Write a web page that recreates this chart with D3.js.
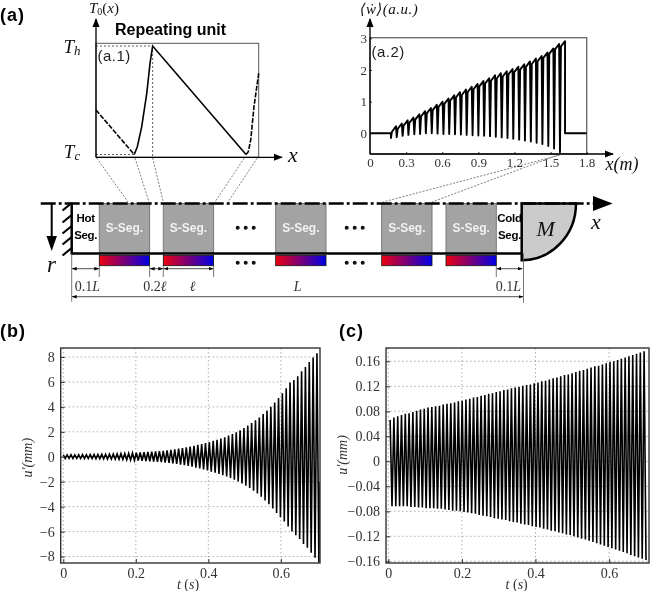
<!DOCTYPE html>
<html>
<head>
<meta charset="utf-8">
<script src="https://cdn.jsdelivr.net/npm/d3@7"></script>
<style>
  html, body { margin: 0; padding: 0; background: #fff; }
  svg { display: block; filter: blur(0.4px); }
  .serif { font-family: "Liberation Serif", "DejaVu Serif", serif; }
  .sans { font-family: "Liberation Sans", Arial, sans-serif; }
  .tick text { font-family: "Liberation Serif", serif; fill: #333; }
  .tick line { stroke: #333; }
</style>
</head>
<body>
<div class="graph"></div>
<script>
// (a.1) temperature profile over one repeating unit, x and T both normalised
const a1LeftX = [0, 0.235];
const a1LeftT = [0.41, 0];
const a1MainX = [0.235, 0.254, 0.281, 0.312, 0.332, 0.348, 0.922];
const a1MainT = [0, 0.072, 0.256, 0.564, 0.84, 1, 0];
const a1RightX = [0.922, 0.936, 0.951, 0.971, 1];
const a1RightT = [0, 0.026, 0.134, 0.44, 0.748];

// (a.2) heat release, one entry per stack segment
const a2ToothX = [0.174, 0.222, 0.271, 0.319, 0.368, 0.416, 0.464, 0.513, 0.561, 0.61,
  0.658, 0.706, 0.755, 0.803, 0.852, 0.9, 0.948, 0.997, 1.045, 1.094,
  1.142, 1.19, 1.239, 1.287, 1.336, 1.384, 1.432, 1.481, 1.529, 1.578];
const a2Bottoms = [-0.15, -0.12, -0.08, -0.05, -0.03, -0.02, 0, 0, -0.01, -0.02,
  -0.02, -0.03, -0.04, -0.05, -0.06, -0.07, -0.08, -0.09, -0.11, -0.13,
  -0.15, -0.17, -0.2, -0.23, -0.26, -0.3, -0.34, -0.4, -0.48, -0.6];
const a2Tops = [0.22, 0.31, 0.41, 0.5, 0.6, 0.7, 0.8, 0.9, 1, 1.1,
  1.2, 1.3, 1.38, 1.47, 1.56, 1.65, 1.74, 1.83, 1.9, 1.96,
  2.03, 2.1, 2.18, 2.27, 2.36, 2.44, 2.55, 2.68, 2.82, 2.91];
const a2XTicks = [0, 0.3, 0.6, 0.9, 1.2, 1.5, 1.8];
const a2YTicks = [0, 1, 2, 3];

// (b) displacement, one top and one bottom per cycle
const bPeriod = 0.0106;
const bTops = [0.16, 0.15, 0.16, 0.15, 0.16, 0.17, 0.16, 0.17, 0.18, 0.18,
  0.19, 0.2, 0.21, 0.22, 0.23, 0.25, 0.26, 0.28, 0.3,
  0.32, 0.34, 0.36, 0.38, 0.4, 0.42, 0.45, 0.48, 0.52, 0.56,
  0.6, 0.65, 0.7, 0.76, 0.82, 0.88, 0.95, 1.02, 1.1,
  1.18, 1.27, 1.36, 1.46, 1.57, 1.7, 1.82, 1.96, 2.12, 2.3,
  2.5, 2.7, 2.92, 3.15, 3.42, 3.7, 4, 4.35, 4.7,
  5.1, 5.5, 5.95, 6.15, 6.45, 6.85, 7.2, 7.6, 7.95, 8.3];
const bBottoms = [-0.14, -0.13, -0.14, -0.13, -0.14, -0.15, -0.14, -0.15, -0.16, -0.16,
  -0.17, -0.18, -0.19, -0.2, -0.21, -0.22, -0.24, -0.26, -0.28,
  -0.3, -0.32, -0.34, -0.36, -0.38, -0.41, -0.44, -0.47, -0.5, -0.54,
  -0.58, -0.63, -0.68, -0.74, -0.8, -0.87, -0.94, -1.02, -1.1,
  -1.2, -1.28, -1.38, -1.48, -1.58, -1.7, -1.84, -1.98, -2.14, -2.32,
  -2.5, -2.72, -2.95, -3.2, -3.5, -3.8, -4.15, -4.5, -4.85,
  -5.2, -5.6, -6, -6.3, -6.6, -7, -7.3, -7.7, -8.1, -8.5];
const bLastValue = -2;
const bYTicks = [-8, -6, -4, -2, 0, 2, 4, 6, 8];

// (c) displacement
const cPeriod = 0.0103;
const cTops = [0.066, 0.07, 0.072, 0.074, 0.076, 0.077, 0.079, 0.081, 0.083, 0.084,
  0.086, 0.087, 0.088, 0.089, 0.091, 0.092, 0.093, 0.094, 0.096, 0.097,
  0.099, 0.1, 0.102, 0.103, 0.105, 0.106, 0.108, 0.109, 0.111, 0.112,
  0.114, 0.115, 0.117, 0.118, 0.119, 0.121, 0.122, 0.123, 0.125, 0.126,
  0.128, 0.129, 0.131, 0.133, 0.134, 0.136, 0.138, 0.139, 0.141, 0.143,
  0.145, 0.146, 0.148, 0.15, 0.152, 0.153, 0.155, 0.157, 0.159, 0.16,
  0.162, 0.164, 0.166, 0.168, 0.17, 0.172, 0.174, 0.176];
const cBottoms = [-0.072, -0.072, -0.072, -0.072, -0.072, -0.073, -0.073, -0.074, -0.074, -0.075,
  -0.075, -0.075, -0.076, -0.076, -0.077, -0.078, -0.079, -0.079, -0.08, -0.081,
  -0.082, -0.083, -0.084, -0.086, -0.087, -0.088, -0.089, -0.091, -0.092, -0.093,
  -0.094, -0.096, -0.097, -0.098, -0.1, -0.101, -0.102, -0.104, -0.105, -0.106,
  -0.108, -0.109, -0.111, -0.112, -0.114, -0.115, -0.117, -0.118, -0.12, -0.122,
  -0.124, -0.125, -0.127, -0.129, -0.131, -0.133, -0.135, -0.137, -0.139, -0.141,
  -0.143, -0.145, -0.147, -0.15, -0.152, -0.154, -0.156, -0.158];
const cYTicks = [-0.16, -0.12, -0.08, -0.04, 0, 0.04, 0.08, 0.12, 0.16];
const timeTicks = [0, 0.2, 0.4, 0.6];

const w = 650;
const h = 591;

const svg = d3.select('.graph')
  .append('svg')
  .attr('width', w)
  .attr('height', h);

const defs = svg.append('defs');

function addMarker(id, path, refX, size) {
  defs.append('marker')
    .attr('id', id)
    .attr('viewBox', '0 0 10 10')
    .attr('refX', refX)
    .attr('refY', 5)
    .attr('markerUnits', 'userSpaceOnUse')
    .attr('markerWidth', size)
    .attr('markerHeight', size)
    .attr('orient', 'auto-start-reverse')
    .append('path')
    .attr('d', path)
    .attr('fill', '#000');
}
addMarker('axis-head', 'M0,1 L10,5 L0,9 Z', 9, 9);
addMarker('dim-head', 'M0,1.5 L10,5 L0,8.5 Z', 9, 5);

const gradient = defs.append('linearGradient').attr('id', 'stack-grad');
gradient.append('stop').attr('offset', '0%').attr('stop-color', '#ee0010');
gradient.append('stop').attr('offset', '100%').attr('stop-color', '#0000e6');

function addText(x, y, str, size, opts = {}) {
  return svg.append('text')
    .attr('class', opts.sans ? 'sans' : 'serif')
    .attr('x', x)
    .attr('y', y)
    .attr('text-anchor', opts.anchor || 'middle')
    .attr('dominant-baseline', 'central')
    .attr('font-size', size)
    .attr('font-weight', opts.bold ? 'bold' : null)
    .attr('font-style', opts.italic ? 'italic' : null)
    .attr('letter-spacing', opts.spacing || null)
    .attr('fill', opts.fill || '#111')
    .text(str);
}

function addLine(x1, y1, x2, y2, color, width, dash) {
  return svg.append('line')
    .attr('x1', x1).attr('y1', y1)
    .attr('x2', x2).attr('y2', y2)
    .attr('stroke', color)
    .attr('stroke-width', width)
    .attr('stroke-dasharray', dash || null);
}

addText(0, 15, '(a)', 18, { sans: true, bold: true, anchor: 'start', spacing: 1, fill: '#000' });
addText(0, 331, '(b)', 18, { sans: true, bold: true, anchor: 'start', spacing: 1, fill: '#000' });
addText(339, 331, '(c)', 18, { sans: true, bold: true, anchor: 'start', spacing: 1, fill: '#000' });

// ---- (a.1) ----
const a1X = d3.scaleLinear().domain([0, 1]).range([96, 258.7]);
const a1Y = d3.scaleLinear().domain([0, 1]).range([154.5, 46]);
const a1Line = d3.line()
  .x((d) => a1X(d[0]))
  .y((d) => a1Y(d[1]));

svg.append('rect')
  .attr('x', a1X(0)).attr('y', 43.3)
  .attr('width', a1X(1) - a1X(0)).attr('height', 157.3 - 43.3)
  .attr('fill', 'none').attr('stroke', '#555').attr('stroke-width', 1);

addLine(a1X(0), a1Y(1), a1X(0.348), a1Y(1), '#333', 0.8, '2 2');
addLine(a1X(0), a1Y(0), a1X(0.235), a1Y(0), '#333', 0.8, '2 2');
addLine(a1X(0.348), a1Y(1), a1X(0.348), 157.3, '#333', 0.8, '2 2');

svg.append('path')
  .attr('d', a1Line(d3.zip(a1LeftX, a1LeftT)))
  .attr('fill', 'none').attr('stroke', '#000').attr('stroke-width', 1.6).attr('stroke-dasharray', '5 1.5');
svg.append('path')
  .attr('d', a1Line(d3.zip(a1MainX, a1MainT)))
  .attr('fill', 'none').attr('stroke', '#000').attr('stroke-width', 1.6);
svg.append('path')
  .attr('d', a1Line(d3.zip(a1RightX, a1RightT)))
  .attr('fill', 'none').attr('stroke', '#000').attr('stroke-width', 1.6).attr('stroke-dasharray', '5 1.5');

addLine(96, 157.3, 96, 19, '#000', 1.3).attr('marker-end', 'url(#axis-head)');
addLine(96, 157.3, 282, 157.3, '#000', 1.3).attr('marker-end', 'url(#axis-head)');

const t0Label = addText(104, 7.5, '', 15, { italic: true });
t0Label.append('tspan').text('T');
t0Label.append('tspan').attr('font-size', 10).attr('dy', 3).attr('font-style', 'normal').text('0');
t0Label.append('tspan').attr('dy', -3).attr('font-style', 'normal').text('(');
t0Label.append('tspan').text('x');
t0Label.append('tspan').attr('font-style', 'normal').text(')');

const thLabel = addText(72, 45.5, '', 19, { italic: true });
thLabel.append('tspan').text('T');
thLabel.append('tspan').attr('font-size', 13).attr('dy', 4).text('h');
const tcLabel = addText(72, 150.5, '', 19, { italic: true });
tcLabel.append('tspan').text('T');
tcLabel.append('tspan').attr('font-size', 13).attr('dy', 4).text('c');

addText(293, 154, 'x', 22, { italic: true });
addText(170.5, 29, 'Repeating unit', 16, { sans: true, bold: true, fill: '#000' });
addText(97.5, 55, '(a.1)', 15, { sans: true, anchor: 'start', spacing: 0.5, fill: '#222' });

// projection lines down to the tube
const a1Leaders = [[96.7, 128], [135, 149], [152.7, 163.3], [244.3, 215], [257.3, 228]];
a1Leaders.forEach((d) => addLine(d[0], 158, d[1], 202, '#444', 0.7, '2 1.5'));

// ---- (a.2) ----
const a2X = d3.scaleLinear().domain([0, 1.8]).range([370, 586.7]);
const a2Y = d3.scaleLinear().domain([0, 3]).range([133.3, 38.3]);

svg.append('rect')
  .attr('x', a2X(0)).attr('y', 37.7)
  .attr('width', a2X(1.8) - a2X(0)).attr('height', 154 - 37.7)
  .attr('fill', 'none').attr('stroke', '#666').attr('stroke-width', 1.3);

let a2Points = [[0, 0], [a2ToothX[0], 0]];
a2ToothX.forEach((x, i) => {
  a2Points.push([x, a2Bottoms[i]]);
  a2Points.push([x + 0.008, a2Tops[i] - 0.17]);
  a2Points.push([x + 0.042, a2Tops[i]]);
});
a2Points.push([1.62, 0], [1.8, 0]);

svg.append('path')
  .attr('d', d3.line().x((d) => a2X(d[0])).y((d) => a2Y(d[1]))(a2Points))
  .attr('fill', 'none').attr('stroke', '#000').attr('stroke-width', 1.9).attr('stroke-linejoin', 'round');

svg.append('g')
  .attr('transform', 'translate(0, 154)')
  .call(d3.axisBottom(a2X).tickValues(a2XTicks).tickFormat((d) => d === 0 ? '0' : d3.format('.1f')(d))
    .tickSizeInner(-2).tickSizeOuter(0).tickPadding(4))
  .call((g) => g.select('.domain').remove())
  .call((g) => g.selectAll('text').attr('font-size', 13));
svg.append('g')
  .attr('transform', 'translate(370, 0)')
  .call(d3.axisLeft(a2Y).tickValues(a2YTicks).tickFormat(d3.format('d')).tickSizeInner(-2).tickSizeOuter(0).tickPadding(3))
  .call((g) => g.select('.domain').remove())
  .call((g) => g.selectAll('text').attr('font-size', 13));

addLine(370, 154, 370, 19, '#000', 1.3).attr('marker-end', 'url(#axis-head)');
addLine(370, 154, 613, 154, '#000', 1.3).attr('marker-end', 'url(#axis-head)');

addText(389, 8.5, '⟨ẇ⟩(a.u.)', 15, { italic: true, spacing: 0.5 });
addText(622, 164, 'x(m)', 18, { italic: true });
addText(371.5, 51.7, '(a.2)', 15, { sans: true, anchor: 'start', spacing: 0.5, fill: '#222' });

addLine(560, 155, 383, 202, '#444', 0.7, '2 1.5');
addLine(558, 155, 432, 202, '#444', 0.7, '2 1.5');

// ---- tube schematic ----
const segmentStarts = [99.3, 163.3, 275.7, 381.7, 446];
const segmentWidth = 50.3;
const tubeTop = 203.5;
const tubeBottom = 253.5;
const hxTop = 255.3;
const hxBottom = 265.7;
const tubeLeft = 71.7;
const tubeRight = 521.7;

svg.selectAll('.seg')
  .data(segmentStarts)
  .enter()
  .append('rect')
  .attr('class', 'seg')
  .attr('x', (d) => d)
  .attr('y', tubeTop)
  .attr('width', segmentWidth)
  .attr('height', tubeBottom - tubeTop)
  .attr('fill', '#a3a3a3')
  .attr('stroke', '#777')
  .attr('stroke-width', 1);

svg.selectAll('.hx')
  .data(segmentStarts)
  .enter()
  .append('rect')
  .attr('class', 'hx')
  .attr('x', (d) => d)
  .attr('y', hxTop)
  .attr('width', segmentWidth)
  .attr('height', hxBottom - hxTop)
  .attr('fill', 'url(#stack-grad)')
  .attr('stroke', '#111')
  .attr('stroke-width', 0.8);

segmentStarts.forEach((d) => addText(d + segmentWidth / 2, 227.7, 'S-Seg.', 12, { sans: true, bold: true, fill: '#f2f2f2' }));

[245.7, 354.7].forEach((cx) => {
  [227.7, 262.7].forEach((cy) => {
    [-8, 0, 8].forEach((dx) => {
      svg.append('circle').attr('cx', cx + dx).attr('cy', cy).attr('r', 2).attr('fill', '#111');
    });
  });
});

addText(85.7, 218, 'Hot', 11.5, { sans: true, bold: true, fill: '#000', spacing: -0.3 });
addText(85.7, 235, 'Seg.', 11.5, { sans: true, bold: true, fill: '#000', spacing: -0.3 });
addText(509.5, 218, 'Cold', 11.5, { sans: true, bold: true, fill: '#000', spacing: -0.3 });
addText(509.5, 235, 'Seg.', 11.5, { sans: true, bold: true, fill: '#000', spacing: -0.3 });

// mass at the end of the tube
svg.append('path')
  .attr('d', `M${tubeRight},${tubeTop} L576,${tubeTop} A54.3,56.8 0 0 1 ${tubeRight},260.3 Z`)
  .attr('fill', '#cbcbcb')
  .attr('stroke', '#000')
  .attr('stroke-width', 2.5);
addText(545.7, 228, 'M', 22, { italic: true });

// centreline
addLine(40.7, tubeTop, 596, tubeTop, '#000', 2.5, '15 3 3 3');
svg.append('path')
  .attr('d', `M593,${tubeTop - 7.5} L612.7,${tubeTop} L593,${tubeTop + 7.5} Z`)
  .attr('fill', '#000');
addText(596, 221, 'x', 22, { italic: true });

addLine(tubeLeft, tubeBottom, tubeRight, tubeBottom, '#000', 2.5);
addLine(tubeLeft, tubeTop - 1, tubeLeft, tubeBottom + 1, '#000', 2.5);

// wall hatching
[203, 215, 226, 237, 248].forEach((y) => addLine(tubeLeft, y, 62.5, y + 7.5, '#000', 2.2));

// r arrow
addLine(51.7, tubeTop, 51.7, 238, '#000', 2);
svg.append('path')
  .attr('d', 'M46.5,236 L51.7,251 L56.9,236 Z')
  .attr('fill', '#000');
addText(51.5, 264, 'r', 23, { italic: true });

// dimension arrows
const dimSpans = [[tubeLeft, 99.3], [149.6, 163.3], [163.3, 213.6], [496.3, 522.7]];
dimSpans.forEach((d) => {
  addLine(d[0] + 0.5, 268.7, d[1] - 0.5, 268.7, '#222', 0.8)
    .attr('marker-start', 'url(#dim-head)')
    .attr('marker-end', 'url(#dim-head)');
});
addLine(tubeLeft + 0.5, 296.7, 523, 296.7, '#222', 0.8)
  .attr('marker-start', 'url(#dim-head)')
  .attr('marker-end', 'url(#dim-head)');
addLine(tubeLeft, tubeBottom, tubeLeft, 301.7, '#555', 0.8);
addLine(523.5, tubeBottom, 523.5, 302.7, '#555', 0.8);
[99.3, 149.6, 163.3, 213.6, 496.3].forEach((x) => addLine(x, hxBottom, x, 277, '#555', 0.8));

function dimLabel(x, y, num, sym) {
  const label = addText(x, y, '', 14, { fill: '#333' });
  label.append('tspan').text(num);
  label.append('tspan').attr('font-style', 'italic').text(sym);
}
dimLabel(87.3, 285.7, '0.1', 'L');
dimLabel(155, 285.7, '0.2', 'ℓ');
dimLabel(192.7, 285.7, '', 'ℓ');
dimLabel(297.7, 285.7, '', 'L');
dimLabel(508.3, 285.7, '0.1', 'L');

// ---- (b) and (c) ----
function timePanel(opts) {
  const x = d3.scaleLinear().domain(opts.xDomain).range([opts.left, opts.right]);
  const y = d3.scaleLinear().domain(opts.yDomain).range([opts.bottom, opts.top]);
  const clipId = `clip-${opts.name}`;

  defs.append('clipPath').attr('id', clipId)
    .append('rect')
    .attr('x', opts.left).attr('y', opts.top)
    .attr('width', opts.right - opts.left).attr('height', opts.bottom - opts.top);

  const panel = svg.append('g');

  panel.selectAll('.grid-x')
    .data(timeTicks)
    .enter()
    .append('line')
    .attr('x1', (d) => x(d)).attr('x2', (d) => x(d))
    .attr('y1', opts.top).attr('y2', opts.bottom)
    .attr('stroke', '#999').attr('stroke-width', 0.8).attr('stroke-dasharray', '1.5 2.5');
  panel.selectAll('.grid-y')
    .data(opts.yTicks)
    .enter()
    .append('line')
    .attr('x1', opts.left).attr('x2', opts.right)
    .attr('y1', (d) => y(d)).attr('y2', (d) => y(d))
    .attr('stroke', '#999').attr('stroke-width', 0.8).attr('stroke-dasharray', '1.5 2.5');

  panel.append('path')
    .attr('clip-path', `url(#${clipId})`)
    .attr('d', d3.line().x((d) => x(d[0])).y((d) => y(d[1]))(opts.points))
    .attr('fill', 'none')
    .attr('stroke', '#000')
    .attr('stroke-width', 1.6);

  panel.append('g')
    .attr('transform', `translate(0, ${opts.bottom})`)
    .call(d3.axisBottom(x).tickValues(timeTicks).tickFormat((d) => d === 0 ? '0' : d3.format('.1f')(d))
      .tickSizeInner(-4).tickSizeOuter(0).tickPadding(5))
    .call((g) => g.select('.domain').remove())
    .call((g) => g.selectAll('text').attr('font-size', 14));
  panel.append('g')
    .attr('transform', `translate(${opts.left}, 0)`)
    .call(d3.axisLeft(y).tickValues(opts.yTicks).tickFormat(opts.yFormat)
      .tickSizeInner(-4).tickSizeOuter(0).tickPadding(6))
    .call((g) => g.select('.domain').remove())
    .call((g) => g.selectAll('text').attr('font-size', 14));

  panel.append('rect')
    .attr('x', opts.left).attr('y', opts.top)
    .attr('width', opts.right - opts.left).attr('height', opts.bottom - opts.top)
    .attr('fill', 'none').attr('stroke', '#333').attr('stroke-width', 1.4);

  addText(opts.xTitleX, 583.5, '', 14, { fill: '#333' })
    .call((t) => {
      t.append('tspan').attr('font-style', 'italic').text('t');
      t.append('tspan').text(' (');
      t.append('tspan').attr('font-style', 'italic').text('s');
      t.append('tspan').text(')');
    });
  addText(opts.yTitleX, opts.yTitleY, "u′(mm)", 14, { italic: true, fill: '#333' })
    .attr('transform', `rotate(-90, ${opts.yTitleX}, ${opts.yTitleY})`);
}

let bPoints = [];
bTops.forEach((v, i) => {
  bPoints.push([i * bPeriod, v]);
  bPoints.push([(i + 0.5) * bPeriod, bBottoms[i]]);
});
bPoints.push([0.708, bLastValue]);

let cPoints = [];
cTops.forEach((v, i) => {
  cPoints.push([0.005 + i * cPeriod, v]);
  cPoints.push([0.005 + (i + 0.5) * cPeriod, cBottoms[i]]);
});

timePanel({
  name: 'b',
  left: 60.7, right: 320, top: 348, bottom: 563,
  xDomain: [-0.0072, 0.708],
  yDomain: [-8.52, 8.72],
  yTicks: bYTicks,
  yFormat: d3.format('d'),
  points: bPoints,
  xTitleX: 188,
  yTitleX: 28,
  yTitleY: 457.7
});

timePanel({
  name: 'c',
  left: 386, right: 649, top: 348, bottom: 563,
  xDomain: [-0.0062, 0.7084],
  yDomain: [-0.1627, 0.1813],
  yTicks: cYTicks,
  yFormat: (d) => d === 0 ? '0' : d3.format('.2f')(d),
  points: cPoints,
  xTitleX: 516.7,
  yTitleX: 342,
  yTitleY: 455
});
</script>
</body>
</html>
